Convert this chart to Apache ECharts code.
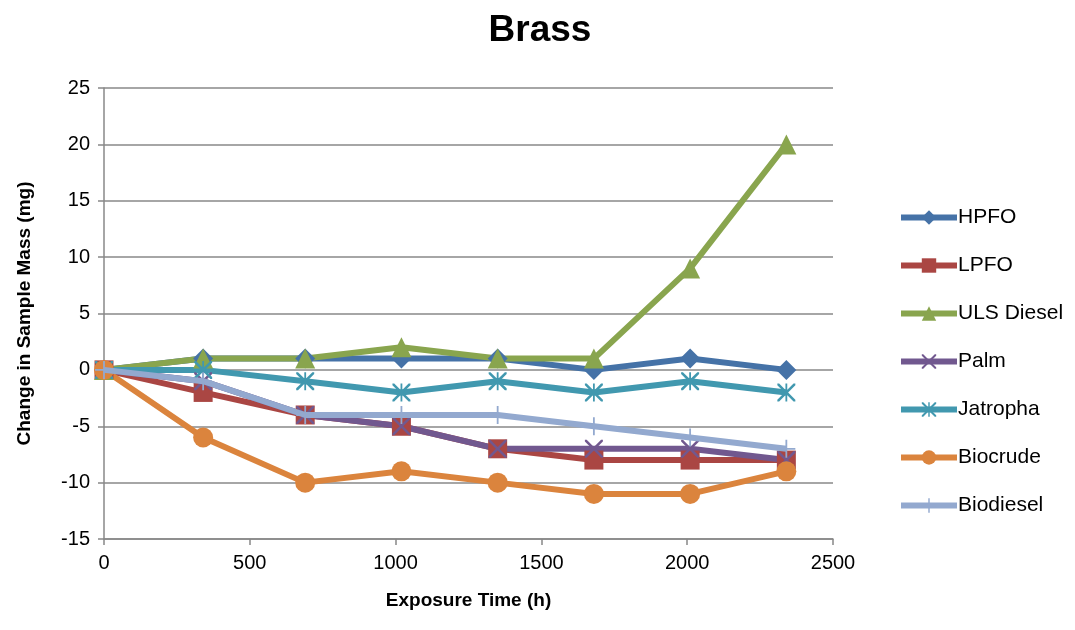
<!DOCTYPE html>
<html><head><meta charset="utf-8">
<script src="https://cdn.jsdelivr.net/npm/echarts@6/dist/echarts.min.js"></script>
<style>html,body{margin:0;padding:0;background:#fff}#c{width:1075px;height:630px}</style>
</head><body><div id="c"></div>
<script>
const hours = [0, 340, 690, 1020, 1350, 1680, 2010, 2340];
const hpfo = [0, 1, 1, 1, 1, 0, 1, 0];
const lpfo = [0, -2, -4, -5, -7, -8, -8, -8];
const uls = [0, 1, 1, 2, 1, 1, 9, 20];
const palm = [0, -1, -4, -5, -7, -7, -7, -8];
const jatropha = [0, 0, -1, -2, -1, -2, -1, -2];
const biocrude = [0, -6, -10, -9, -10, -11, -11, -9];
const biodiesel = [0, -1, -4, -4, -4, -5, -6, -7];
const names = ['HPFO','LPFO','ULS Diesel','Palm','Jatropha','Biocrude','Biodiesel'];
const colors = ['#4572A7','#AA4643','#89A54E','#71588F','#4198AF','#DB843D','#93A9CF'];
const xPath = 'path://M0,0 L2,0 L10,8 L18,0 L20,0 L20,2 L12,10 L20,18 L20,20 L18,20 L10,12 L2,20 L0,20 L0,18 L8,10 L0,2 Z';
const starPath = 'path://M0,0 L2,0 L10,8 L18,0 L20,0 L20,2 L12,10 L20,18 L20,20 L18,20 L10,12 L2,20 L0,20 L0,18 L8,10 L0,2 Z M9,0 L11,0 L11,20 L9,20 Z';
const plusPath = 'path://M9,0 L11,0 L11,9 L20,9 L20,11 L11,11 L11,20 L9,20 L9,11 L0,11 L0,9 L9,9 Z';
const symbols = ['diamond','rect','triangle',xPath,starPath,'circle',plusPath];
const sizes = [20,19,20,18,18,20,18];
const data = [hpfo,lpfo,uls,palm,jatropha,biocrude,biodiesel];
const font = 'Liberation Sans, Arial, sans-serif';
const chart = echarts.init(document.getElementById('c'));
chart.setOption({
  animation:false,
  title:{text:'Brass',left:535,top:7,textAlign:'center',textStyle:{fontFamily:font,fontSize:37,fontWeight:'bold',color:'#000'}},
  grid:{left:104,right:242,top:88,bottom:91},
  legend:{orient:'vertical',left:893,top:202,itemWidth:56,itemHeight:18,itemGap:27,
    lineStyle:{width:6},
    textStyle:{fontFamily:font,fontSize:21,color:'#000',padding:[0,0,0,-4]},data:names},
  xAxis:{type:'value',min:0,max:2500,interval:500,
    axisLine:{onZero:false,lineStyle:{color:'#888',width:1.5}},
    axisTick:{show:true,length:6,lineStyle:{color:'#888',width:1.5}},
    splitLine:{show:false},
    axisLabel:{fontFamily:font,fontSize:20,color:'#000',margin:14,formatter:v=>String(v)},
    name:'Exposure Time (h)',nameLocation:'middle',nameGap:52,
    nameTextStyle:{fontFamily:font,fontSize:19,fontWeight:'bold',color:'#000'}},
  yAxis:{type:'value',min:-15,max:25,interval:5,
    axisLine:{show:true,lineStyle:{color:'#888',width:1.5}},
    axisTick:{show:true,length:6,lineStyle:{color:'#888',width:1.5}},
    splitLine:{show:true,lineStyle:{color:'#888',width:1.5}},
    axisLabel:{fontFamily:font,fontSize:20,color:'#000',margin:14},
    name:'Change in Sample Mass (mg)',nameLocation:'middle',nameGap:70,
    nameTextStyle:{fontFamily:font,fontSize:19,fontWeight:'bold',color:'#000'}},
  series:names.map((n,i)=>({
    name:n,type:'line',data:hours.map((h,j)=>[h,data[i][j]]),
    symbol:symbols[i],symbolSize:sizes[i],showSymbol:true,
    lineStyle:{color:colors[i],width:6},
    itemStyle:{color:colors[i]},
    z:i===6?3:2
  }))
});
</script></body></html>
